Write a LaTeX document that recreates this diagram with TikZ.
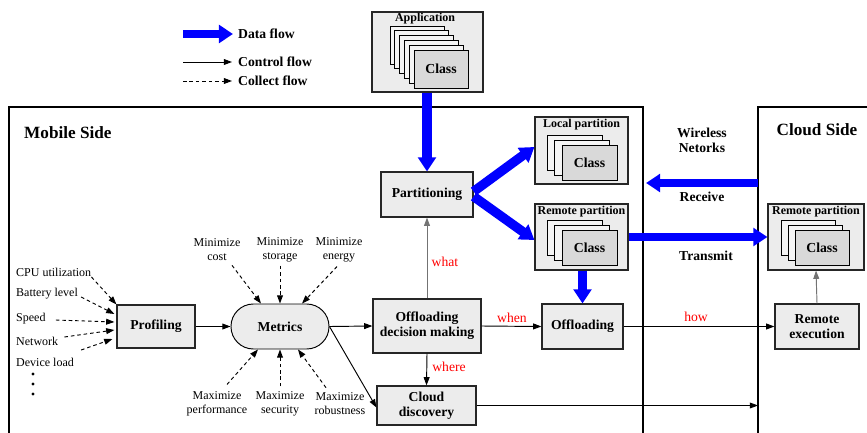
\documentclass[tikz,border=0pt]{standalone}
\usepackage{fontspec}
\setmainfont{Liberation Serif}
\usetikzlibrary{arrows.meta,calc}
\begin{document}
\begin{tikzpicture}[x=0.85pt,y=-0.85pt,
  sz/.style 2 args={minimum width=#1*0.85pt, minimum height=#2*0.85pt},
  fbig/.style={font=\bfseries\fontsize{14.6}{16}\selectfont},
  fttl/.style={font=\bfseries\fontsize{10.2}{12}\selectfont, inner sep=0pt},
  freg/.style={font=\fontsize{10.2}{12}\selectfont, inner sep=0pt, align=center},
  fred/.style={font=\fontsize{11.6}{13}\selectfont, text=red, inner sep=0pt},
  flbl/.style={font=\bfseries\fontsize{11.6}{13}\selectfont, inner sep=0pt, align=center},
  boxc/.style={draw=black!85, line width=1pt, fill=gray!15, inner sep=0pt, align=center,
    font=\bfseries\fontsize{11.6}{12.5}\selectfont},
  backcard/.style={draw=black, line width=0.8pt, fill=gray!8},
  frontcard/.style={draw=black, line width=0.8pt, fill=gray!30, inner sep=0pt,
    font=\bfseries\fontsize{11.7}{13}\selectfont},
  ctrl/.style={-{Triangle[length=7pt,width=5pt]}, line width=0.8pt, draw=black},
  ctrlg/.style={ctrl, draw=black!55},
  coll/.style={ctrl, dash pattern=on 3pt off 2.5pt},
  dflow/.style={-{Triangle[length=12pt,width=15pt]}, line width=8pt, draw=blue},
  dflowt/.style={dflow, line width=6.5pt},
  sidebox/.style={draw=black, line width=1.2pt}
]
\useasboundingbox (0,0) rectangle (867,432);

% side frames
\draw[sidebox] (9,445) -- (9,107) -- (643,107) -- (643,445);
\draw[sidebox] (758,445) -- (758,107) -- (870,107);
\node[fbig, anchor=west, inner sep=0pt] (mobside) at (24,133) {Mobile Side};
\node[fbig, inner sep=0pt] (cloudside) at (817,130) {Cloud Side};
\node[flbl] (wless) at (702,140) {Wireless\\Netorks};
\node[flbl] (recvl) at (702,197) {Receive};
\node[flbl] (tranl) at (706,256) {Transmit};

% legend
\coordinate (ld1) at (183,34); \coordinate (ld2) at (233,34);
\coordinate (lc1) at (183,62); \coordinate (lc2) at (232,62);
\coordinate (lk1) at (183,81); \coordinate (lk2) at (232,81);
\draw[dflowt] (ld1) -- (ld2);
\draw[ctrl] (lc1) -- (lc2);
\draw[coll] (lk1) -- (lk2);
\node[flbl, anchor=west] (ldt) at (238,34) {Data flow};
\node[flbl, anchor=west] (lct) at (238,62) {Control flow};
\node[flbl, anchor=west] (lkt) at (238,81) {Collect flow};

% application
\node[boxc, sz={111}{80}] (app) at (427.5,52) {};
\node[fttl] (apptitle) at (425,19) {Application};
\foreach \i in {0,...,4} \draw[backcard] ({390+4.8*\i},{26+4.8*\i}) rectangle ++(54,38);
\node[frontcard, sz={54}{38}] (appclass) at (441,69) {Class};

% partitioning & partitions
\node[boxc, sz={92}{45}] (part) at (427,194.5) {Partitioning};
\node[boxc, sz={93}{67}] (local) at (581.5,150.5) {};
\node[fttl] (localtitle) at (581.5,125) {Local partition};
\draw[backcard] (547,135) rectangle ++(55,35);
\draw[backcard] (554.5,140) rectangle ++(55,35);
\node[frontcard, sz={55}{35}] (lclass) at (589.5,162.5) {Class};

\node[boxc, sz={93}{66}] (rpm) at (581.5,237) {};
\node[fttl] (rpmtitle) at (581.5,212) {Remote partition};
\draw[backcard] (547,220) rectangle ++(55,35);
\draw[backcard] (554.5,225) rectangle ++(55,35);
\node[frontcard, sz={55}{35}] (rmclass) at (589.5,247.5) {Class};

\node[boxc, sz={96}{66}] (rpc) at (816,237) {};
\node[fttl] (rpctitle) at (816,212) {Remote partition};
\draw[backcard] (781,220) rectangle ++(54,35);
\draw[backcard] (788,225) rectangle ++(54,35);
\node[frontcard, sz={54}{35}] (rcclass) at (822,247.5) {Class};

% process boxes
\node[boxc, sz={78}{43}] (prof) at (156,326.5) {Profiling};
\node[boxc, line width=0.8pt, draw=black, rounded corners=19pt, sz={98}{45}] (met) at (280,326.5) {Metrics};
\node[boxc, sz={108}{54}] (odm) at (427,326) {Offloading\\decision making};
\node[boxc, sz={81}{45}] (off) at (582.5,326.5) {Offloading};
\node[boxc, sz={99}{39}] (cd) at (426.5,405.5) {Cloud\\discovery};
\node[boxc, sz={84}{45}] (rex) at (817,326.5) {Remote\\execution};

% inputs
\node[freg, anchor=west] (cpu) at (16,272) {CPU utilization};
\node[freg, anchor=west] (bat) at (16,294) {Battery level};
\node[freg, anchor=west] (spd) at (16,319) {Speed};
\node[freg, anchor=west] (net) at (16,341) {Network};
\node[freg, anchor=west] (dev) at (16,362) {Device load};
\foreach \yy in {374,384,394} \fill (33,\yy) circle (1.4pt);

\draw[coll] ($(cpu.east)+(0,5)$) -- (prof.north west);
\draw[coll] ($(bat.east)+(3,3)$) -- ($(prof.west)+(-2,-12.5)$);
\draw[coll] ($(spd.east)+(10,1)$) -- ($(prof.west)+(-2,-4.5)$);
\draw[coll] ($(net.east)+(6,-4)$) -- ($(prof.west)+(-2,3.5)$);
\draw[coll] ($(dev.east)+(7,-12)$) -- ($(prof.west)+(-4,12.5)$);

% metrics criteria
\node[freg] (mcost) at (217,250) {Minimize\\cost};
\node[freg] (mstor) at (280,250) {Minimize\\storage};
\node[freg] (mene) at (339,250) {Minimize\\energy};
\node[freg] (mperf) at (217,404) {Maximize\\performance};
\node[freg] (msec) at (280,404) {Maximize\\security};
\node[freg] (mrob) at (340,404) {Maximize\\robustness};

\draw[coll] ($(mcost.south)+(15,4)$) -- ($(met.north)+(-19,0)$);
\draw[coll] ($(mstor.south)+(0,3)$) -- (met.north);
\draw[coll] ($(mene.south)+(-2,4)$) -- ($(met.north)+(22,0)$);
\draw[coll] ($(mperf.north)+(10,-7)$) -- ($(met.south)+(-22,0)$);
\draw[coll] ($(msec.north)+(0,-5)$) -- (met.south);
\draw[coll] ($(mrob.north)+(-14,-5)$) -- ($(met.south)+(18,0)$);

% control flows
\draw[ctrl] (prof.east) -- (met.west);
\draw[ctrl] (met.east) -- (odm.west);
\draw[ctrl] (met.east) -- ($(cd.west)+(0,2)$);
\draw[ctrlg] (odm.north) -- (part.south);
\node[fred] (what) at (445,262) {what};
\draw[ctrl] (odm.east) -- (off.west);
\node[fred] (when) at (512,318) {when};
\draw[ctrl] (odm.south) -- (cd.north);
\node[fred] (where) at (449,367) {where};
\draw[ctrl] (off.east) -- (rex.west);
\node[fred] (how) at (696,317) {how};
\coordinate (cdend) at (758,405.5);
\draw[ctrl] (cd.east) -- (cdend);
\draw[ctrlg] (rex.north) -- (rpc.south);

% data flows
\draw[dflow] (app.south -| part.north) -- (part.north);
\draw[dflow] ($(part.east)+(0,-3)$) -- ($(local.west)+(0,-3.5)$);
\draw[dflow] ($(part.east)+(0,2)$) -- ($(rpm.west)+(0,3)$);
\draw[dflow] (rpm.south -| off.north) -- (off.north);
\coordinate (recvs) at (758,183); \coordinate (recve) at (646,183);
\draw[dflowt] (recvs) -- (recve);
\draw[dflowt] (rpm.east) -- (rpc.west);
\end{tikzpicture}
\end{document}
